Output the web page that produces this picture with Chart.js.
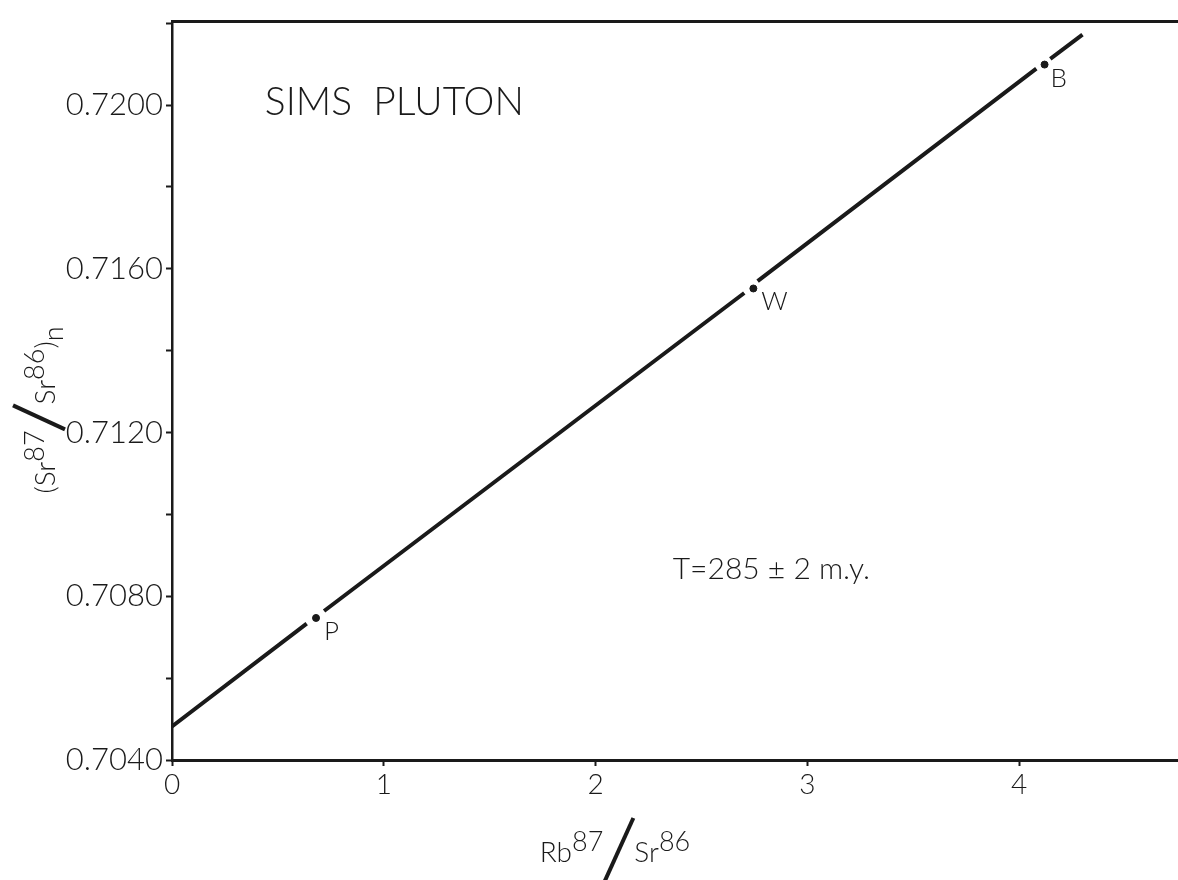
<!DOCTYPE html>
<html>
<head>
<meta charset="utf-8">
<script src="https://cdn.jsdelivr.net/npm/chart.js@4.4.1/dist/chart.umd.min.js"></script>
<style>
  html, body { margin: 0; padding: 0; background: #fff; overflow: hidden; }
  #wrap { width: 1178px; height: 880px; }
</style>
</head>
<body>
<div id="wrap"><canvas id="chart"></canvas></div>
<script>
// samples
const sampleNames = ['P', 'W', 'B'];
const rbSr = [0.68, 2.745, 4.12];
const srSr = [0.70747, 0.71552, 0.72099];

// isochron, drawn in pieces with a small break round each sample (null = break)
const lineX = [0, 0.636, 0.68, 0.718, 2.702, 2.745, 2.765, 4.081, 4.12, 4.147, 4.299];
const lineY = [0.70482, 0.70733, null, 0.70764, 0.71541, null, 0.71570, 0.72089, null, 0.72113, 0.72172];

// axes
const yMin = 0.7040, yMax = 0.72204, yStep = 0.002;
const xMin = 0, xMax = 4.75, xStep = 1;

const FONT = 'Lato, "DejaVu Sans", sans-serif';
const INK = '#1a1a1a';

function drawRatio(ctx, cx, cy, tokens, size, slash) {
    // tokens: [text, kind] kind = n | sup | sub | slash
    const supSize = Math.round(size * 0.95);
    let total = 0;
    const widths = tokens.map(([t, k]) => {
        let w;
        if (k === 'slash') w = slash.w;
        else {
            ctx.font = `300 ${k === 'n' ? size : supSize}px ${FONT}`;
            w = ctx.measureText(t).width;
        }
        total += w;
        return w;
    });
    let x = cx - total / 2;
    tokens.forEach(([t, k], i) => {
        if (k === 'slash') {
            ctx.save();
            ctx.lineWidth = 4;
            ctx.strokeStyle = INK;
            ctx.beginPath();
            ctx.moveTo(x + 1, cy + slash.down);
            ctx.lineTo(x + widths[i] - 1, cy - slash.up);
            ctx.stroke();
            ctx.restore();
        } else {
            ctx.font = `300 ${k === 'n' ? size : supSize}px ${FONT}`;
            let dy = 0;
            if (k === 'sup') dy = -size * 0.4;
            if (k === 'sub') dy = size * 0.3;
            ctx.fillText(t, x, cy + dy);
        }
        x += widths[i];
    });
}

const decorPlugin = {
    id: 'decor',
    afterDatasetsDraw(chart) {
        const { ctx, chartArea, scales } = chart;
        const xs = scales.x, ys = scales.y;
        ctx.save();

        // top frame line
        ctx.strokeStyle = INK;
        ctx.lineWidth = 3;
        ctx.beginPath();
        ctx.moveTo(chartArea.left, chartArea.top);
        ctx.lineTo(chartArea.right, chartArea.top);
        ctx.stroke();

        ctx.fillStyle = INK;
        ctx.textBaseline = 'alphabetic';

        // sample labels
        const offs = [[8, 22], [8, 22], [6, 22]];
        ctx.font = `300 26px ${FONT}`;
        ctx.textAlign = 'left';
        sampleNames.forEach((n, i) => {
            const px = xs.getPixelForValue(rbSr[i]);
            const py = ys.getPixelForValue(srSr[i]);
            ctx.fillText(n, px + offs[i][0], py + offs[i][1]);
        });

        // title and age
        ctx.textAlign = 'center';
        ctx.font = `300 39px ${FONT}`;
        ctx.fillText('SIMS  PLUTON', xs.getPixelForValue(1.05), ys.getPixelForValue(0.71975));
        ctx.font = `300 30px ${FONT}`;
        ctx.fillText('T=285 ± 2 m.y.', xs.getPixelForValue(2.83), ys.getPixelForValue(0.70842));

        // axis titles
        ctx.textAlign = 'left';
        drawRatio(ctx, 615, 862,
            [['Rb', 'n'], ['87', 'sup'], ['/', 'slash'], ['Sr', 'n'], ['86', 'sup']],
            28, { w: 31, up: 44, down: 20 });

        ctx.translate(55, 410);
        ctx.rotate(-Math.PI / 2);
        drawRatio(ctx, 0, 0,
            [['(Sr', 'n'], ['87', 'sup'], ['/', 'slash'], ['Sr', 'n'], ['86', 'sup'], [')', 'n'], ['n', 'sub']],
            28, { w: 26, up: 42, down: 10 });
        ctx.restore();
    }
};

const lineData = lineX.map((x, i) => ({ x: x, y: lineY[i] }));
const pointData = rbSr.map((x, i) => ({ x: x, y: srSr[i] }));

new Chart(document.getElementById('chart'), {
    type: 'scatter',
    data: {
        datasets: [
            {
                type: 'line',
                data: lineData,
                borderColor: INK,
                borderWidth: 4,
                pointRadius: 0,
                spanGaps: false,
                fill: false
            },
            {
                data: pointData,
                backgroundColor: INK,
                borderColor: INK,
                pointRadius: 3.5
            }
        ]
    },
    options: {
        responsive: true,
        maintainAspectRatio: false,
        animation: false,
        layout: { autoPadding: false, padding: { top: 16, right: 0, left: 0, bottom: 0 } },
        plugins: { legend: { display: false }, tooltip: { enabled: false } },
        scales: {
            x: {
                type: 'linear',
                min: xMin,
                max: xMax,
                afterFit: s => { s.height = 120; },
                border: { display: true, color: INK, width: 3 },
                grid: { drawOnChartArea: false, drawTicks: true, tickLength: 6, tickWidth: 2, color: INK },
                ticks: {
                    stepSize: xStep,
                    includeBounds: false,
                    padding: 2,
                    color: INK,
                    font: { family: FONT, size: 28, weight: '300' }
                }
            },
            y: {
                type: 'linear',
                min: yMin,
                max: yMax,
                afterFit: s => { s.width = 172; },
                border: { display: true, color: INK, width: 2.5 },
                grid: { drawOnChartArea: false, drawTicks: true, tickLength: 6, tickWidth: 2, color: INK },
                ticks: {
                    stepSize: yStep,
                    includeBounds: false,
                    padding: 3,
                    color: INK,
                    font: { family: FONT, size: 31, weight: '300' },
                    callback: (v, i) => (i % 2 === 0 ? v.toFixed(4) : '')
                }
            }
        }
    },
    plugins: [decorPlugin]
});
</script>
</body>
</html>
